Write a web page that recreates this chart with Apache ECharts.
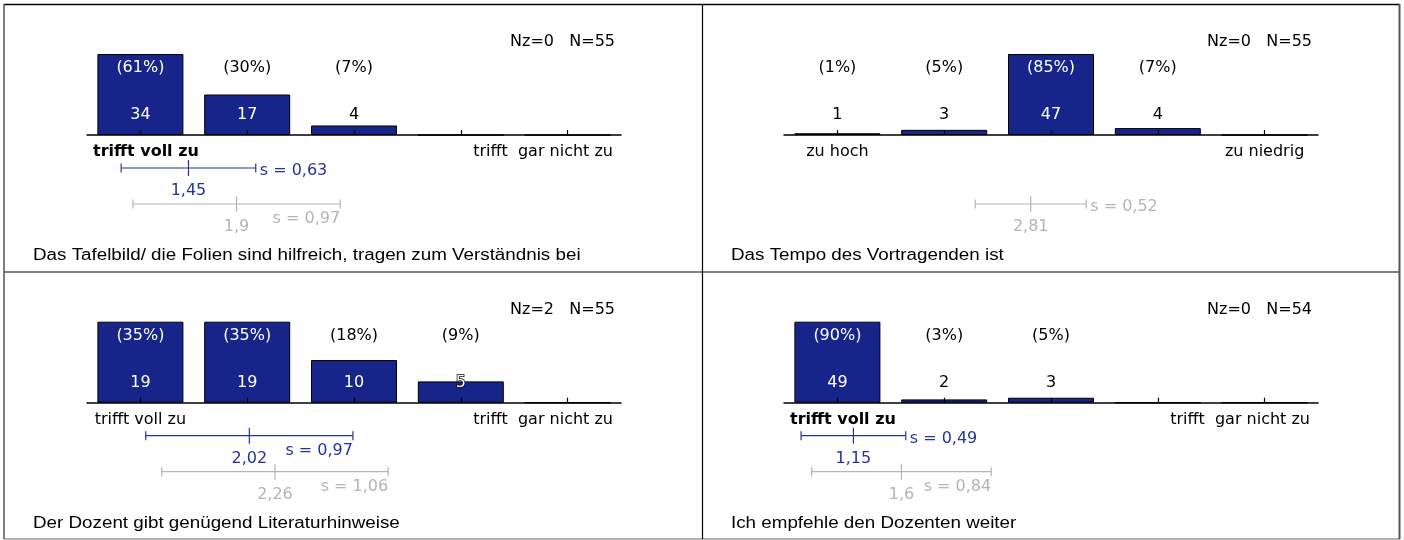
<!DOCTYPE html>
<html>
<head>
<meta charset="utf-8">
<script src="https://cdn.jsdelivr.net/npm/echarts@6/dist/echarts.min.js"></script>
<style>
html,body{margin:0;padding:0;background:#fff;}
#chart{width:1404px;height:540px;}
</style>
</head>
<body>
<div id="chart"></div>
<script>
// ---------------- data ----------------
const categories = ['1', '2', '3', '4', '5'];

const titles = [
  'Das Tafelbild/ die Folien sind hilfreich, tragen zum Verständnis bei',
  'Das Tempo des Vortragenden ist',
  'Der Dozent gibt genügend Literaturhinweise',
  'Ich empfehle den Dozenten weiter'
];

const counts1 = [34, 17, 4, 0, 0];
const counts2 = [1, 3, 47, 4, 0];
const counts3 = [19, 19, 10, 5, 0];
const counts4 = [49, 2, 3, 0, 0];

const pct1 = ['(61%)', '(30%)', '(7%)', '', ''];
const pct2 = ['(1%)', '(5%)', '(85%)', '(7%)', ''];
const pct3 = ['(35%)', '(35%)', '(18%)', '(9%)', ''];
const pct4 = ['(90%)', '(3%)', '(5%)', '', ''];

const leftLabels = ['trifft voll zu', 'zu hoch', 'trifft voll zu', 'trifft voll zu'];
const rightLabels = ['trifft  gar nicht zu', 'zu niedrig', 'trifft  gar nicht zu', 'trifft  gar nicht zu'];

const nzValues = [0, 0, 2, 0];
const nValues = [55, 55, 55, 54];

const ownMean = [1.45, null, 2.02, 1.15];
const ownSd = [0.63, null, 0.97, 0.49];
const cmpMean = [1.9, 2.81, 2.26, 1.6];
const cmpSd = [0.97, 0.52, 1.06, 0.84];

// ---------------- layout / style (not data) ----------------
const countsAll = [counts1, counts2, counts3, counts4];
const pctAll = [pct1, pct2, pct3, pct4];
const leftBold = [true, false, false, true];
const ownSPlace = ['right', null, 'below', 'right'];
const cmpSPlace = ['below', 'right', 'below', 'below'];

const colLeft = [87, 784];
const axisW = 534;
const rowBase = [135, 402.7];
const barAreaH = 81;
const titleX = [33, 731];

const BAR_COLOR = '#17258b';
const BLUE = '#24349c';
const GRAY = '#b4b4b4';
const FONT = '"DejaVu Sans", sans-serif';

const measureCtx = document.createElement('canvas').getContext('2d');
function textW(t, font) { measureCtx.font = font; return measureCtx.measureText(t).width; }
function fmt(v) { return String(v).replace('.', ','); }

const grid = [], xAxis = [], yAxis = [], series = [], graphic = [];

for (let p = 0; p < 4; p++) {
  const col = p % 2, row = Math.floor(p / 2);
  const counts = countsAll[p];
  const pcts = pctAll[p];
  const gBar = grid.length;
  grid.push({ left: colLeft[col], top: rowBase[row] - barAreaH, width: axisW, height: barAreaH });
  const gErr = grid.length;
  grid.push({ left: colLeft[col], top: rowBase[row] + 33, width: axisW, height: 36 });

  const xBar = xAxis.length;
  xAxis.push({
    type: 'category', gridIndex: gBar, data: categories, z: 5,
    axisLine: { show: true, lineStyle: { color: '#000', width: 1.5 } },
    axisTick: { show: true, inside: true, alignWithLabel: true, length: 5, lineStyle: { color: '#000', width: 1.2 } },
    axisLabel: { show: false }, splitLine: { show: false }
  });
  const yBar = yAxis.length;
  yAxis.push({ type: 'value', gridIndex: gBar, min: 0, max: Math.max(...counts), show: false, splitLine: { show: false } });

  const xErr = xAxis.length;
  xAxis.push({ type: 'value', gridIndex: gErr, min: 0.5, max: 5.5, show: false, splitLine: { show: false } });
  const yErr = yAxis.length;
  yAxis.push({ type: 'value', gridIndex: gErr, min: 0, max: 1, inverse: true, show: false, splitLine: { show: false } });

  series.push({
    type: 'bar', xAxisIndex: xBar, yAxisIndex: yBar, data: counts, barWidth: 86, z: 2,
    itemStyle: { color: BAR_COLOR, borderColor: '#000', borderWidth: 1 }, silent: true
  });

  // value/percent labels + axis end labels
  series.push({
    type: 'custom', xAxisIndex: xBar, yAxisIndex: yBar, z: 10, silent: true,
    data: counts.map((v, j) => [j, v]),
    renderItem: function (params, api) {
      const j = params.dataIndex;
      const v = counts[j];
      const base = api.coord([j, 0]);
      const top = api.coord([j, v]);
      const bh = base[1] - top[1];
      const cs = params.coordSys;
      const children = [];
      const font = '16px ' + FONT;
      if (v > 0) {
        const inPct = bh >= 67 + 7;
        children.push({ type: 'text', style: { text: pcts[j], x: base[0], y: base[1] - 67, align: 'center', verticalAlign: 'middle', font: font, fill: inPct ? '#fff' : '#000' } });
        const inCnt = bh >= 20;
        const partial = bh < 28;
        const st = { text: String(v), x: base[0], y: base[1] - 20, align: 'center', verticalAlign: 'middle', font: font, fill: inCnt ? '#fff' : '#000' };
        if (inCnt && partial) { st.stroke = '#000'; st.lineWidth = 1.5; }
        children.push({ type: 'text', style: st });
      }
      if (j === 0 || j === counts.length - 1) {
        const txt = j === 0 ? leftLabels[p] : rightLabels[p];
        const f = (j === 0 && leftBold[p] ? 'bold ' : '') + font;
        const w = textW(txt, f);
        let x0 = base[0] - w / 2;
        if (x0 < cs.x + 6) x0 = cs.x + 6;
        if (x0 + w > cs.x + cs.width - 8) x0 = cs.x + cs.width - 8 - w;
        children.push({ type: 'text', style: { text: txt, x: x0, y: base[1] + 17, align: 'left', verticalAlign: 'middle', font: f, fill: '#000' } });
      }
      return { type: 'group', children: children };
    }
  });

  // mean / sd bars
  const errData = [];
  const errMeta = [];
  if (ownMean[p] != null) { errData.push([ownMean[p], ownSd[p], 0]); errMeta.push({ color: BLUE, place: ownSPlace[p] }); }
  if (cmpMean[p] != null) { errData.push([cmpMean[p], cmpSd[p], 1]); errMeta.push({ color: GRAY, place: cmpSPlace[p] }); }
  series.push({
    type: 'custom', xAxisIndex: xErr, yAxisIndex: yErr, z: 10, silent: true,
    data: errData,
    renderItem: function (params, api) {
      const m = api.value(0), s = api.value(1), r = api.value(2);
      const meta = errMeta[params.dataIndex];
      const L = api.coord([m - s, r]);
      const C = api.coord([m, r]);
      const R = api.coord([m + s, r]);
      const y = C[1];
      const ls = { stroke: meta.color, lineWidth: 1.2 };
      const font = '16px ' + FONT;
      const children = [
        { type: 'line', shape: { x1: L[0], y1: y, x2: R[0], y2: y }, style: ls },
        { type: 'line', shape: { x1: L[0], y1: y - 4.5, x2: L[0], y2: y + 4.5 }, style: ls },
        { type: 'line', shape: { x1: R[0], y1: y - 4.5, x2: R[0], y2: y + 4.5 }, style: ls },
        { type: 'line', shape: { x1: C[0], y1: y - 8, x2: C[0], y2: y + 8 }, style: ls },
        { type: 'text', style: { text: fmt(m), x: C[0], y: y + 23, align: 'center', verticalAlign: 'middle', font: font, fill: meta.color } }
      ];
      const sTxt = 's = ' + fmt(s);
      if (meta.place === 'right') {
        children.push({ type: 'text', style: { text: sTxt, x: R[0] + 4, y: y + 3, align: 'left', verticalAlign: 'middle', font: font, fill: meta.color } });
      } else {
        children.push({ type: 'text', style: { text: sTxt, x: R[0], y: y + 15, align: 'right', verticalAlign: 'middle', font: font, fill: meta.color } });
      }
      return { type: 'group', children: children };
    }
  });

  // N text & title
  graphic.push({
    type: 'text', silent: true,
    style: { text: 'Nz=' + nzValues[p] + '   N=' + nValues[p], x: colLeft[col] + 528, y: rowBase[row] - 93, align: 'right', verticalAlign: 'middle', font: '16px ' + FONT, fill: '#000' }
  });
  graphic.push({
    type: 'text', silent: true,
    x: titleX[col], y: rowBase[row] + 120.5, scaleX: 1.175, scaleY: 1,
    style: { text: titles[p], x: 0, y: 0, align: 'left', verticalAlign: 'middle', font: '16px "Liberation Sans", Arial, sans-serif', fill: '#000' }
  });
}

// frame
function hline(x1, x2, y, c, w) { graphic.push({ type: 'line', silent: true, shape: { x1: x1, y1: y, x2: x2, y2: y }, style: { stroke: c, lineWidth: w } }); }
function vline(x, y1, y2, c, w) { graphic.push({ type: 'line', silent: true, shape: { x1: x, y1: y1, x2: x, y2: y2 }, style: { stroke: c, lineWidth: w } }); }
hline(4, 1400, 4.5, '#000', 1.5);
hline(4, 1400, 272, '#000', 1.2);
hline(4, 1400, 539, '#9a9a9a', 1.5);
vline(4, 4, 539, '#555', 1.5);
vline(702.5, 4, 539, '#000', 1.2);
vline(1399.5, 4, 539, '#555', 2);

const chart = echarts.init(document.getElementById('chart'), null, { renderer: 'canvas' });
chart.setOption({
  backgroundColor: '#fff',
  animation: false,
  grid: grid, xAxis: xAxis, yAxis: yAxis, series: series, graphic: graphic
});
</script>
</body>
</html>
